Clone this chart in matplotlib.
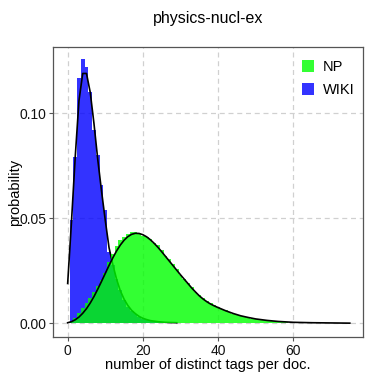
import numpy as np
import matplotlib
matplotlib.use("Agg")
import matplotlib.pyplot as plt
from matplotlib.patches import Patch

plt.rcParams['font.family'] = ['Liberation Sans', 'DejaVu Sans']

# histogram of WIKI (bins of width 1, centred on integers)
wiki_bins = np.arange(1, 30)
wiki_hist = [0.049, 0.079, 0.117, 0.126, 0.122, 0.110, 0.092, 0.080, 0.066, 0.054,
             0.034, 0.028, 0.021, 0.016, 0.011, 0.008, 0.006, 0.0045, 0.003, 0.0022,
             0.0015, 0.0012, 0.0009, 0.0007, 0.0005, 0.0004, 0.0003, 0.0002, 0.0002]

# histogram of NP
np_bins = np.arange(1, 61)
np_hist = [0.0012, 0.0025, 0.005, 0.0073, 0.0098, 0.012, 0.015, 0.018, 0.0206, 0.024,
           0.029, 0.033, 0.037, 0.0395, 0.041, 0.0425, 0.0435, 0.0433, 0.0425, 0.0418,
           0.041, 0.040, 0.0385, 0.0375, 0.035, 0.032, 0.0305, 0.0285, 0.026, 0.023,
           0.021, 0.019, 0.0175, 0.015, 0.0135, 0.012, 0.0105, 0.0095, 0.0088, 0.0078,
           0.007, 0.0062, 0.0052, 0.0046, 0.004, 0.0034, 0.003, 0.0026, 0.0022, 0.0019,
           0.0016, 0.0014, 0.0012, 0.001, 0.0009, 0.0007, 0.0006, 0.0005, 0.0004, 0.0003]

# fitted curves
wiki_fit_x = [0, 1, 2, 3, 4, 5, 6, 7, 8, 9, 10, 11, 12, 13, 14, 15, 16, 17, 18, 19,
              20, 21, 22, 24, 26, 29]
wiki_fit_y = [0.019, 0.048, 0.079, 0.106, 0.119, 0.119, 0.110, 0.095, 0.078, 0.063,
              0.049, 0.036, 0.028, 0.021, 0.0155, 0.0115, 0.0085, 0.0062, 0.0046, 0.0033,
              0.0024, 0.0018, 0.0013, 0.0008, 0.0005, 0.0003]

np_fit_x = [0, 1, 2, 3, 4, 5, 6, 7, 8, 9, 10, 11, 12, 13, 14, 15, 16, 17, 18, 19,
            20, 21, 22, 23, 24, 25, 26, 27, 28, 29, 30, 31, 32, 33, 34, 35, 36, 37, 38,
            39, 40, 42, 44, 46, 48, 50, 53, 56, 60, 65, 70, 75]
np_fit_y = [0.0003, 0.0008, 0.0017, 0.003, 0.0048, 0.007, 0.0097, 0.0128, 0.0163, 0.0200,
            0.0238, 0.0276, 0.0312, 0.0345, 0.0373, 0.0396, 0.0413, 0.0424, 0.0429, 0.0428,
            0.0422, 0.0412, 0.0398, 0.0381, 0.0362, 0.0341, 0.0319, 0.0297, 0.0275, 0.0253,
            0.0231, 0.0210, 0.0189, 0.0168, 0.0149, 0.0131, 0.0116, 0.0103, 0.0092,
            0.0083, 0.0075, 0.0060, 0.0047, 0.0036, 0.0028, 0.0021, 0.0014, 0.0009,
            0.0005, 0.0003, 0.0002, 0.0001]

blue = '#0000ff'
green = '#00ff00'

fig = plt.figure(figsize=(3.74, 3.74), dpi=100)
ax = fig.add_axes([0.1417, 0.0989, 0.8289, 0.7754])

ax.stairs(wiki_hist, np.append(wiki_bins - 0.5, wiki_bins[-1] + 0.5), fill=True,
          color=blue, alpha=0.8, lw=0, zorder=1)
ax.plot(wiki_fit_x, wiki_fit_y, color='black', lw=1.2, zorder=2)
ax.stairs(np_hist, np.append(np_bins - 0.5, np_bins[-1] + 0.5), fill=True,
          color=green, alpha=0.8, lw=0, zorder=3)
ax.plot(np_fit_x, np_fit_y, color='black', lw=1.2, zorder=4)

ax.set_xlim(-3.9, 78.5)
ax.set_ylim(-0.0065, 0.1316)
ax.set_xticks([0, 20, 40, 60])
ax.set_yticks([0.0, 0.05, 0.10])
ax.set_yticklabels(['0.00', '0.05', '0.10'])
ax.grid(True, color='#d0d0d0', linestyle=(0, (4, 3)), linewidth=0.9)
ax.set_axisbelow(True)
for s in ax.spines.values():
    s.set_color('#555555')
    s.set_linewidth(0.9)
ax.tick_params(length=3, width=0.8, color='#555555', labelsize=10, pad=2,
               labelcolor='#111111')

ax.set_title('physics-nucl-ex', fontsize=11.5, pad=17)
ax.set_xlabel('number of distinct tags per doc.', fontsize=10.5, labelpad=0)
ax.set_ylabel('probability', fontsize=10.5)
ax.yaxis.set_label_coords(-0.1, 0.5)

handles = [Patch(color=green, alpha=0.8, lw=0), Patch(color=blue, alpha=0.8, lw=0)]
ax.legend(handles, ['NP', 'WIKI'], loc='upper right', frameon=False, fontsize=10.5,
          handlelength=0.85, handleheight=0.85, handletextpad=0.6, labelspacing=0.6,
          bbox_to_anchor=(1.015, 1.0))

fig.savefig('out.png', dpi=100)
